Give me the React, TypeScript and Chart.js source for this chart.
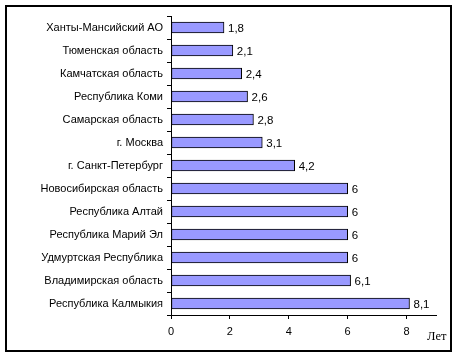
import React, { useEffect, useRef } from "react";
import { Chart, registerables } from "chart.js";

Chart.register(...registerables);

const categories = [
  "Ханты-Мансийский АО",
  "Тюменская область",
  "Камчатская область",
  "Республика Коми",
  "Самарская область",
  "г. Москва",
  "г. Санкт-Петербург",
  "Новосибирская область",
  "Республика Алтай",
  "Республика Марий Эл",
  "Удмуртская Республика",
  "Владимирская область",
  "Республика Калмыкия",
];
const values = [1.8, 2.1, 2.4, 2.6, 2.8, 3.1, 4.2, 6, 6, 6, 6, 6.1, 8.1];
const valueLabels = ["1,8", "2,1", "2,4", "2,6", "2,8", "3,1", "4,2", "6", "6", "6", "6", "6,1", "8,1"];
const xTicks = [0, 2, 4, 6, 8];
const unitLabel = "Лет";

const FONT = "'Liberation Sans', Arial, sans-serif";

const framePlugin = {
  id: "frame",
  beforeDraw(chart: any) {
    const ctx = chart.ctx;
    ctx.save();
    ctx.fillStyle = "#ffffff";
    ctx.fillRect(0, 0, chart.width, chart.height);
    ctx.strokeStyle = "#000000";
    ctx.lineWidth = 2;
    ctx.strokeRect(6, 6, 445, 345);
    ctx.restore();
  },
};

const labelsPlugin = {
  id: "valueLabels",
  afterDatasetsDraw(chart: any) {
    const ctx = chart.ctx;
    const meta = chart.getDatasetMeta(0);
    ctx.save();
    ctx.font = `11.5px ${FONT}`;
    ctx.fillStyle = "#000000";
    ctx.textAlign = "left";
    ctx.textBaseline = "middle";
    meta.data.forEach((bar: any, i: number) => {
      ctx.fillText(valueLabels[i], bar.x + 4, bar.y + 1);
    });
    const xs = chart.scales.x;
    ctx.font = `12.5px 'Liberation Serif', 'Times New Roman', serif`;
    ctx.fillText(unitLabel, xs.right - 9, xs.top + 22);
    ctx.restore();
  },
};

export default function App() {
  const ref = useRef<HTMLCanvasElement>(null);
  useEffect(() => {
    document.body.style.margin = "0";
    const chart = new Chart(ref.current!, {
      type: "bar",
      data: {
        labels: categories,
        datasets: [
          {
            data: values,
            backgroundColor: "#9999ff",
            borderColor: "#000000",
            borderWidth: 1,
            borderSkipped: false,
            barThickness: 11,
            categoryPercentage: 1,
          },
        ],
      },
      options: {
        indexAxis: "y",
        animation: false,
        responsive: false,
        maintainAspectRatio: false,
        layout: { padding: { top: 16, right: 22, left: 0, bottom: 0 } },
        plugins: { legend: { display: false }, tooltip: { enabled: false }, title: { display: false } },
        scales: {
          y: {
            type: "category",
            afterFit(scale: any) {
              scale.width = 171;
            },
            grid: {
              offset: true,
              drawOnChartArea: false,
              drawTicks: true,
              tickLength: 4,
              color: "#000000",
            },
            border: { color: "#000000", width: 1 },
            ticks: {
              color: "#000000",
              font: { family: FONT, size: 11 },
              padding: 4,
              autoSkip: false,
            },
          },
          x: {
            type: "linear",
            min: 0,
            max: 9,
            afterFit(scale: any) {
              scale.height = 43;
            },
            afterBuildTicks(scale: any) {
              scale.ticks = xTicks.map((v) => ({ value: v }));
            },
            grid: {
              drawOnChartArea: false,
              drawTicks: true,
              tickLength: 4,
              color: "#000000",
            },
            border: { color: "#000000", width: 1 },
            ticks: {
              color: "#000000",
              font: { family: FONT, size: 11 },
              padding: 6,
              maxRotation: 0,
              callback: (v: any) => String(v),
            },
          },
        },
      },
      plugins: [framePlugin, labelsPlugin],
    });
    return () => chart.destroy();
  }, []);
  return (
    <div style={{ position: "relative", width: 458, height: 358 }}>
      <canvas ref={ref} width={458} height={358} style={{ display: "block", width: 458, height: 358 }} />
    </div>
  );
}
